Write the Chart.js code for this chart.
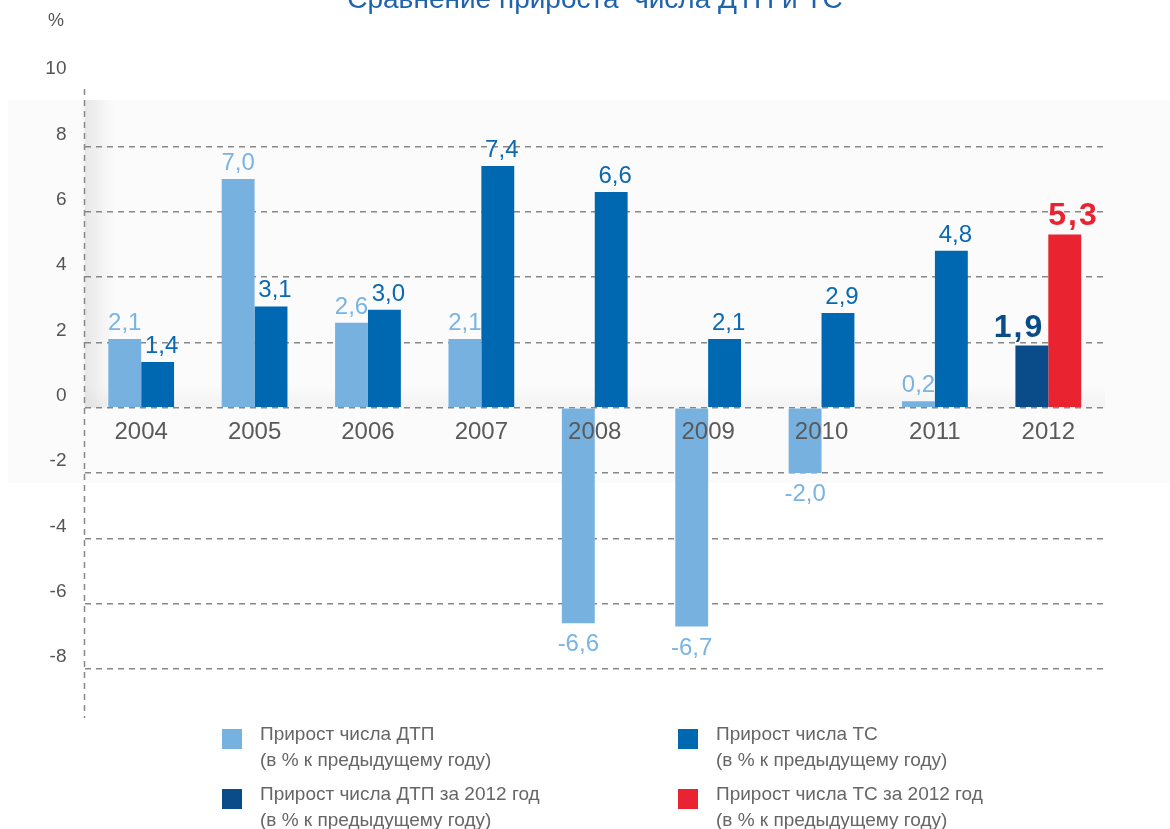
<!DOCTYPE html>
<html lang="ru">
<head>
<meta charset="utf-8">
<title>Сравнение прироста числа ДТП и ТС</title>
<script src="https://cdn.jsdelivr.net/npm/chart.js@4.4.1/dist/chart.umd.min.js"></script>
<style>
    html, body { margin: 0; padding: 0; background: #fff; }
    #wrap { width: 1170px; height: 829px; }
</style>
</head>
<body>
<div id="wrap"><canvas id="myChart" width="1170" height="829"></canvas></div>
<script>
const years = ['2004', '2005', '2006', '2007', '2008', '2009', '2010', '2011', '2012'];
const dtpGrowth = [2.1, 7.0, 2.6, 2.1, -6.6, -6.7, -2.0, 0.2, 1.9];
const tsGrowth = [1.4, 3.1, 3.0, 7.4, 6.6, 2.1, 2.9, 4.8, 5.3];
const yTicks = [10, 8, 6, 4, 2, 0, -2, -4, -6, -8];
const legendNames = [
    'Прирост числа ДТП',
    'Прирост числа ТС',
    'Прирост числа ДТП за 2012 год',
    'Прирост числа ТС за 2012 год'
];
const legendNote = '(в % к предыдущему году)';
const chartTitle = 'Сравнение прироста  числа ДТП и ТС';

const lightBlue = '#76b1e0';
const blue = '#0068b1';
const navy = '#0a4c89';
const red = '#e9232f';
const legendColors = [lightBlue, blue, navy, red];

const dtpColors = years.map(y => y === '2012' ? navy : lightBlue);
const tsColors = years.map(y => y === '2012' ? red : blue);

const FONT = '"Liberation Sans", Arial, sans-serif';
const GRID = '#888';

// faint grey panel behind the upper part of the chart + dashed y axis line
const panelPlugin = {
    id: 'panel',
    beforeDraw(chart) {
        const c = chart.ctx;
        const area = chart.chartArea;
        const zero = chart.scales.y.getPixelForValue(0);
        c.save();
        c.fillStyle = '#fbfbfb';
        c.fillRect(8, 100, chart.width - 8, 383);
        let g = c.createLinearGradient(area.left, 0, area.left + 30, 0);
        g.addColorStop(0, 'rgba(0,0,0,0.08)');
        g.addColorStop(1, 'rgba(0,0,0,0)');
        c.fillStyle = g;
        c.fillRect(area.left, 100, 30, zero - 100);
        g = c.createLinearGradient(0, zero - 22, 0, zero);
        g.addColorStop(0, 'rgba(0,0,0,0)');
        g.addColorStop(1, 'rgba(0,0,0,0.035)');
        c.fillStyle = g;
        c.fillRect(area.left, zero - 22, area.right - area.left, 22);
        c.restore();
    },
    beforeDatasetsDraw(chart) {
        const c = chart.ctx;
        const area = chart.chartArea;
        c.save();
        c.strokeStyle = GRID;
        c.lineWidth = 1.5;
        c.setLineDash([6, 5]);
        c.beginPath();
        c.moveTo(area.left, area.top + 8);
        c.lineTo(area.left, area.bottom);
        c.stroke();
        c.restore();
    }
};

// value labels over / under the bars
const valuePlugin = {
    id: 'values',
    afterDatasetsDraw(chart) {
        const c = chart.ctx;
        c.save();
        chart.data.datasets.forEach((ds, di) => {
            const meta = chart.getDatasetMeta(di);
            meta.data.forEach((bar, i) => {
                const v = ds.data[i];
                const text = v.toFixed(1).replace('.', ',');
                const last = i === years.length - 1;
                c.fillStyle = last ? ds.backgroundColor[i] : (di === 0 ? '#7ab4e3' : '#0a69b2');
                c.textBaseline = 'alphabetic';
                if (last) {
                    c.font = 'bold 32px ' + FONT;
                    c.letterSpacing = '2px';
                    if (di === 0) {
                        c.textAlign = 'right';
                        c.fillText(text, bar.x + bar.width / 2 - 4, bar.y - 9);
                    } else {
                        c.textAlign = 'left';
                        c.fillText(text, bar.x - bar.width / 2, bar.y - 10);
                    }
                    c.letterSpacing = '0px';
                    return;
                }
                c.font = '24px ' + FONT;
                c.textAlign = 'center';
                const shift = di === 1 ? 4 : 0;
                if (v >= 0) {
                    c.fillText(text, bar.x + shift, bar.y - 9);
                } else {
                    c.fillText(text, bar.x + shift, bar.y + 28);
                }
            });
        });
        c.restore();
    }
};

// title, unit and the two-column legend
const textPlugin = {
    id: 'texts',
    afterDraw(chart) {
        const c = chart.ctx;
        c.save();
        c.fillStyle = '#1f63ad';
        c.font = '28px ' + FONT;
        c.textAlign = 'center';
        c.textBaseline = 'alphabetic';
        c.fillText(chartTitle, 595, 8);

        c.fillStyle = '#555';
        c.font = '18px ' + FONT;
        c.textAlign = 'left';
        c.fillText('%', 48, 26);

        const cols = [222, 678];
        const rows = [729, 789];
        legendNames.forEach((name, i) => {
            const x = cols[i % 2];
            const y = rows[Math.floor(i / 2)];
            c.fillStyle = legendColors[i];
            c.fillRect(x, y, 20, 20);
            c.fillStyle = '#666';
            c.font = '19px ' + FONT;
            c.textBaseline = 'middle';
            c.fillText(name, x + 38, y + 6);
            c.fillText(legendNote, x + 38, y + 32);
        });
        c.restore();
    }
};

const ctx = document.getElementById('myChart').getContext('2d');
const myChart = new Chart(ctx, {
    type: 'bar',
    data: {
        labels: years,
        datasets: [{
            label: legendNames[0],
            data: dtpGrowth,
            backgroundColor: dtpColors
        },
        {
            label: legendNames[1],
            data: tsGrowth,
            backgroundColor: tsColors
        }]
    },
    options: {
        responsive: false,
        animation: false,
        devicePixelRatio: 1,
        categoryPercentage: 0.58,
        barPercentage: 1,
        layout: {
            padding: { left: 0, right: 65, top: 81, bottom: 111 }
        },
        plugins: {
            legend: { display: false },
            title: { display: false },
            tooltip: { enabled: false }
        },
        scales: {
            x: {
                position: { y: 0 },
                grid: { display: false },
                border: { display: false },
                ticks: {
                    z: 1,
                    padding: 2,
                    color: '#5a5a5a',
                    font: { family: FONT, size: 24 }
                },
                afterFit(scale) {
                    scale.height = 0;
                }
            },
            y: {
                min: -9.5,
                max: 10,
                afterBuildTicks(scale) {
                    scale.ticks = yTicks.map(v => ({ value: v }));
                },
                afterFit(scale) {
                    scale.width = 84.5;
                },
                grid: {
                    drawTicks: false,
                    color: c => c.tick && c.tick.value === 10 ? 'rgba(0,0,0,0)' : GRID,
                    lineWidth: 1.5
                },
                border: {
                    display: false,
                    dash: [6, 5]
                },
                ticks: {
                    padding: 18,
                    labelOffset: -12,
                    color: '#555',
                    font: { family: FONT, size: 19 }
                }
            }
        }
    },
    plugins: [panelPlugin, valuePlugin, textPlugin]
});
</script>
</body>
</html>
